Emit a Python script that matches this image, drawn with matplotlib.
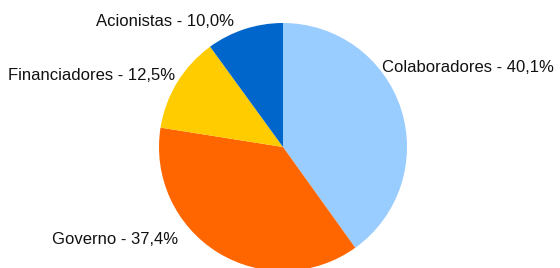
import matplotlib
matplotlib.use("Agg")
import matplotlib.pyplot as plt

categories = ["Colaboradores", "Governo", "Financiadores", "Acionistas"]
shares = [40.1, 37.4, 12.5, 10.0]
colors = ["#99ccff", "#ff6600", "#ffcc00", "#0066cc"]

W, H = 560, 268
fig = plt.figure(figsize=(W / 100, H / 100), dpi=100)
ax = fig.add_axes([0, 0, 1, 1])

cx, cy, r = 283, H - 147, 124
ax.pie(shares, colors=colors, startangle=90, counterclock=False,
       center=(cx, cy), radius=r, frame=True,
       wedgeprops=dict(linewidth=0))
ax.set_xlim(0, W); ax.set_ylim(0, H)
ax.set_aspect("equal"); ax.axis("off")

# label anchors (left x, center y in pixel coords from top)
spots = {"Colaboradores": (382, 68), "Governo": (52, 239),
         "Financiadores": (8, 76), "Acionistas": (96, 21)}
for name, val in zip(categories, shares):
    x, y = spots[name]
    txt = f"{name} - {val:.1f}%".replace(".", ",")
    ax.text(x, H - y, txt, ha="left", va="center", fontsize=12,
            family="Liberation Sans", color="#111111")

fig.savefig("out.png", dpi=100)
